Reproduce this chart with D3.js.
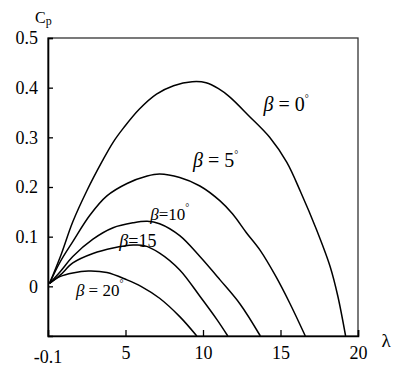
<!DOCTYPE html>
<html lang="en">
<head>
<meta charset="utf-8">
<title>Cp - lambda</title>
<script src="https://d3js.org/d3.v7.min.js"></script>
<style>
  body { margin: 0; background: #fff; }
</style>
</head>
<body>
<div id="chart"></div>
<script>
var serif = "'Liberation Serif', 'Times New Roman', Times, 'DejaVu Serif', serif";

// tick labels
var xTicks = [5, 10, 15, 20];
var yTicks = [0, 0.1, 0.2, 0.3, 0.4, 0.5];
var cornerLabel = "-0.1";

// curve labels (pitch angle)
var betas = [0, 5, 10, 15, 20];
var betaLabels = ["\u03B2 = 0\u00B0", "\u03B2 = 5\u00B0", "\u03B2=10\u00B0", "\u03B2=15", "\u03B2 = 20\u00B0"];

// [lambda, Cp]
var cp0 = [[0.1,0.006],[0.8,0.06],[1.6,0.13],[2.5,0.192],[3.5,0.252],[4.2,0.29],[4.9,0.32],[5.9,0.357],
  [7.0,0.387],[8.1,0.404],[9.3,0.412],[10.2,0.41],[11.0,0.398],[11.7,0.382],[13.0,0.342],[14.3,0.300],
  [15.4,0.25],[16.3,0.19],[17.3,0.116],[18.2,0.040],[18.7,-0.02],[19.2,-0.1]];
var cp5 = [[0.1,0.006],[0.8,0.05],[1.6,0.09],[2.7,0.143],[3.8,0.182],[5.1,0.207],[6.4,0.222],[7.2,0.226],
  [8.5,0.219],[9.8,0.202],[11.1,0.172],[11.9,0.146],[12.8,0.108],[13.7,0.072],[14.7,0.02],[15.6,-0.034],[16.6,-0.1]];
var cp10 = [[0.1,0.006],[0.8,0.03],[1.6,0.06],[2.9,0.095],[4.2,0.118],[5.5,0.128],[6.4,0.131],[7.2,0.126],
  [8.5,0.102],[9.8,0.06],[11.1,0.013],[12.4,-0.036],[13.7,-0.1]];
var cp15 = [[0.1,0.006],[0.8,0.023],[1.6,0.047],[2.9,0.066],[4.2,0.077],[5.5,0.083],[6.2,0.082],[7.2,0.067],
  [8.5,0.033],[9.8,-0.02],[10.9,-0.067],[11.6,-0.1]];
var cp20 = [[0.1,0.006],[0.8,0.02],[1.6,0.027],[2.6,0.031],[3.8,0.028],[5.1,0.013],[6.0,0.0],[7.2,-0.024],
  [8.5,-0.061],[9.6,-0.1]];

var series = [cp0, cp5, cp10, cp15, cp20];

// where each label sits, in data units (lambda, Cp of baseline start)
var labelPos = [[13.9, 0.354], [9.35, 0.24], [6.6, 0.133], [4.6, 0.079], [1.8, -0.02]];
var labelSize = [20, 20, 17, 18, 17];

var width = 401, height = 368;
var margin = { top: 38, right: 43, bottom: 32, left: 48 };

var svg = d3.select("#chart").append("svg")
  .attr("width", width)
  .attr("height", height)
  .attr("font-family", serif);

var x = d3.scaleLinear()
  .domain([0, 20])
  .range([margin.left, width - margin.right]);

var y = d3.scaleLinear()
  .domain([-0.1, 0.5])
  .range([height - margin.bottom, margin.top]);

// frame
svg.append("rect")
  .attr("x", x(0)).attr("y", y(0.5))
  .attr("width", x(20) - x(0)).attr("height", y(-0.1) - y(0.5))
  .attr("fill", "none").attr("stroke", "#333").attr("stroke-width", 1.3);

// axes with inward ticks
var xAxis = svg.append("g")
  .attr("transform", "translate(0," + y(-0.1) + ")")
  .call(d3.axisBottom(x).tickValues(xTicks).tickSize(-6).tickPadding(10).tickFormat(d3.format("d")));

var yAxis = svg.append("g")
  .attr("transform", "translate(" + x(0) + ",0)")
  .call(d3.axisLeft(y).tickValues(yTicks).tickSize(-5).tickPadding(10)
    .tickFormat(function(d) { return d === 0 ? "0" : d3.format(".1f")(d); }));

[xAxis, yAxis].forEach(function(g) {
  g.attr("font-family", serif);
  g.select(".domain").attr("stroke", "#000").attr("stroke-width", 1.6);
  g.selectAll(".tick line").attr("stroke", "#000").attr("stroke-width", 1.3);
  g.selectAll(".tick text").style("font-size", "18px").style("font-family", serif).attr("fill", "#000");
});

// -0.1 label sits below the corner
svg.append("text")
  .attr("x", x(0)).attr("y", y(-0.1) + 27)
  .attr("text-anchor", "middle")
  .style("font-family", serif)
  .style("font-size", "18px")
  .text(cornerLabel);

// axis titles
svg.append("text")
  .attr("x", 386).attr("y", 347)
  .attr("text-anchor", "middle")
  .style("font-family", serif)
  .style("font-size", "19px")
  .text("\u03BB");

var cp = svg.append("text")
  .attr("x", 35).attr("y", 23)
  .style("font-family", serif)
  .style("font-size", "16px");
cp.append("tspan").text("C");
cp.append("tspan").attr("dy", 2).style("font-size", "12px").text("p");

// curves
var line = d3.line()
  .x(function(d) { return x(d[0]); })
  .y(function(d) { return y(d[1]); })
  .curve(d3.curveCatmullRom);

svg.selectAll(".curve")
  .data(series)
  .enter()
  .append("path")
  .attr("class", "curve")
  .attr("d", line)
  .attr("fill", "none")
  .attr("stroke", "#000")
  .attr("stroke-width", 1.5);

// beta labels
betas.forEach(function(b, i) {
  var t = svg.append("text")
    .attr("x", x(labelPos[i][0]))
    .attr("y", y(labelPos[i][1]))
    .style("font-family", serif)
    .style("font-size", labelSize[i] + "px");
  var s = betaLabels[i];
  t.append("tspan").style("font-style", "italic").text(s.charAt(0));
  var rest = s.slice(1).replace("\u00B0", "");
  t.append("tspan").text(rest);
  if (s.indexOf("\u00B0") >= 0) {
    t.append("tspan").attr("dy", -9).style("font-size", "10px").text("\u00B0");
  }
});
</script>
</body>
</html>
